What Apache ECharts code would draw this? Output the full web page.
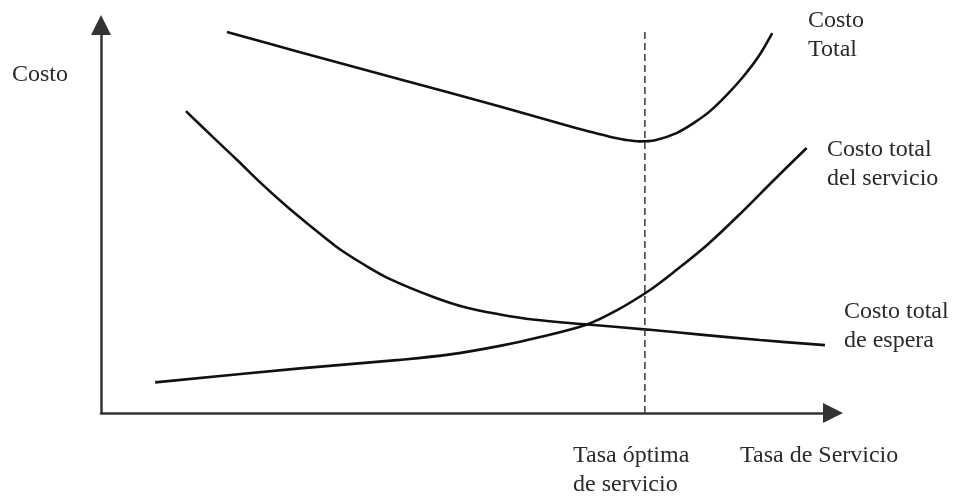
<!DOCTYPE html>
<html>
<head>
<meta charset="utf-8">
<script src="https://cdn.jsdelivr.net/npm/echarts@6/dist/echarts.min.js"></script>
<style>
  html, body { margin: 0; padding: 0; background: #fff; }
  #chart { width: 959px; height: 498px; }
</style>
</head>
<body>
<div id="chart"></div>
<script>
// curvas (x = tasa de servicio, y = costo, escala 0-100)
var costoTotal = [
    [17.2, 98.2], [27.2, 93.0], [40.8, 86.0], [54.5, 79.0], [62.7, 74.6],
    [66.8, 72.5], [69.5, 71.2], [71.6, 70.4], [73.6, 70.0], [75.7, 70.3],
    [78.7, 72.2], [81.1, 74.9], [83.2, 77.8], [85.5, 82.0], [87.7, 86.6],
    [89.8, 91.8], [91.7, 97.9]
];
var costoServicio = [
    [7.4, 7.9], [27.2, 11.5], [40.8, 13.7], [47.7, 15.1], [54.5, 17.3],
    [60.0, 19.6], [66.5, 22.9], [70.5, 26.5], [75.0, 31.7], [78.1, 36.1],
    [82.8, 43.3], [87.3, 51.3], [91.8, 59.8], [96.4, 68.3]
];
var costoEspera = [
    [11.6, 77.8], [15.3, 71.1], [18.6, 65.2], [21.7, 59.5], [25.4, 53.2],
    [28.6, 48.2], [32.2, 42.8], [35.8, 38.4], [39.5, 34.5], [45.4, 29.9],
    [50.0, 27.1], [54.5, 25.4], [59.0, 24.1], [66.5, 22.8], [74.6, 21.5],
    [81.9, 20.2], [90.0, 18.8], [98.9, 17.5]
];
var tasaOptima = 74.3;
var topeOptima = 98.2;

var dom = document.getElementById("chart");
var myChart = echarts.init(dom);

var fuente = '24px "Liberation Serif", "Times New Roman", serif';
var colorTexto = '#2a2a2a';

function texto(t, x, y) {
    return {
        type: 'text',
        x: x,
        y: y,
        silent: true,
        style: {
            text: t,
            font: fuente,
            fill: colorTexto,
            lineHeight: 29,
            verticalAlign: 'top'
        }
    };
}

function curva(nombre, datos) {
    return {
        name: nombre,
        type: 'line',
        data: datos,
        smooth: 0.35,
        showSymbol: false,
        silent: true,
        lineStyle: { color: '#111', width: 2.6 }
    };
}

var option = {
    animation: false,
    backgroundColor: '#fff',
    grid: { left: 101, right: 126, top: 25, bottom: 85 },
    xAxis: {
        type: 'value',
        min: 0,
        max: 100,
        axisLine: {
            show: true,
            symbol: ['none', 'triangle'],
            symbolSize: [20, 20],
            lineStyle: { color: '#333', width: 2.5 }
        },
        axisTick: { show: false },
        axisLabel: { show: false },
        splitLine: { show: false }
    },
    yAxis: {
        type: 'value',
        min: 0,
        max: 100,
        axisLine: {
            show: true,
            symbol: ['none', 'triangle'],
            symbolSize: [20, 20],
            lineStyle: { color: '#333', width: 2.5 }
        },
        axisTick: { show: false },
        axisLabel: { show: false },
        splitLine: { show: false }
    },
    graphic: [
        texto('Costo', 12, 60),
        texto('Costo\nTotal', 808, 6),
        texto('Costo total\ndel servicio', 827, 135),
        texto('Costo total\nde espera', 844, 297),
        texto('Tasa óptima\nde servicio', 573, 441),
        texto('Tasa de Servicio', 740, 441)
    ],
    series: [
        curva('Costo Total', costoTotal),
        curva('Costo total del servicio', costoServicio),
        curva('Costo total de espera', costoEspera),
        {
            name: 'Tasa óptima',
            type: 'line',
            data: [[tasaOptima, 0], [tasaOptima, topeOptima]],
            showSymbol: false,
            silent: true,
            lineStyle: { color: '#444', width: 1.6, type: [7, 4] }
        }
    ]
};

myChart.setOption(option);
</script>
</body>
</html>
